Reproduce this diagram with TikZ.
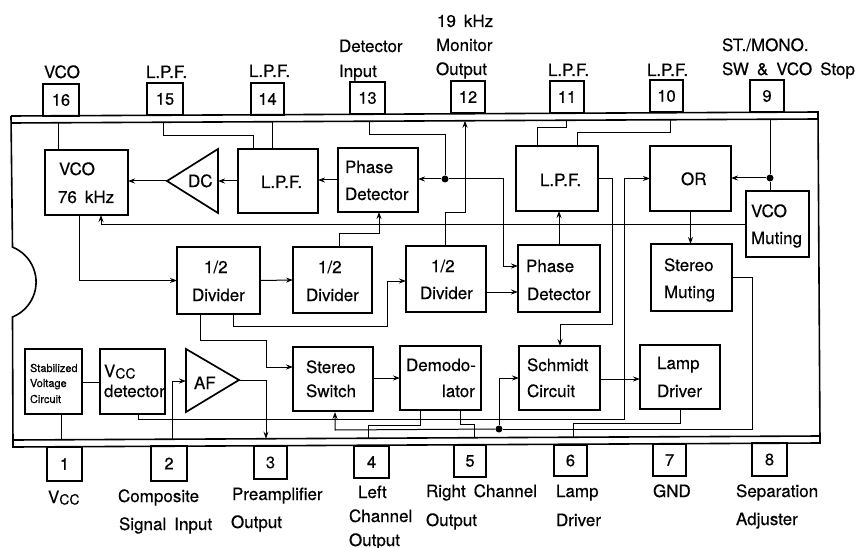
\documentclass[tikz,border=0pt]{standalone}
\usepackage{fontspec}
\setmainfont[FakeBold=0.4,WordSpace=1.7]{TeX Gyre Heros}
\usetikzlibrary{arrows.meta,calc}
\tikzset{
 x=1pt,y=-1pt,
 box/.style={draw,line width=1.7pt,anchor=north west,inner sep=0pt,outer sep=0pt},
 pin/.style={draw,line width=1.4pt,inner sep=0pt,outer sep=0pt,font=\fontsize{16.5}{16}\selectfont,anchor=north west},
 lbl/.style={inner sep=0pt,outer sep=0pt,font=\fontsize{17}{17}\selectfont,anchor=base west},
 tiny/.style={inner sep=0pt,outer sep=0pt,font=\fontsize{11}{11}\selectfont,anchor=base west},
 wire/.style={line width=1pt},
 arr/.style={wire,-{Stealth[length=7pt,width=5pt]}},
 dotn/.style={circle,fill=black,inner sep=0pt,minimum size=7pt},
 band/.style={line width=1.6pt},
}
\newcommand{\bx}[5]{\node[box,minimum width=#4pt-#2pt,minimum height=#5pt-#3pt] (#1) at (#2,#3) {};}
\newcommand{\pn}[6]{\node[pin,minimum width=#4pt-#2pt,minimum height=#5pt-#3pt] (#1) at (#2,#3) {#6};}
\newcommand{\tx}[4]{\node[lbl] (#1) at (#2,#3) {#4};}
\begin{document}
\begin{tikzpicture}
\useasboundingbox (0,0) rectangle (856,548);
% package
\draw[band] (11,116) -- (818,112) -- (820,443) -- (13,447) -- (12.5,317)
  arc[start angle=68,end angle=-68,radius=37.7] -- (11,116);
\draw[band] (11,123) -- (818,119);
\draw[band] (13,440) -- (820,436);
% boxes
\bx{vco}{45}{150}{128}{215}
\bx{lpfa}{238}{149}{318}{213}
\bx{pda}{338}{148}{418}{212}
\bx{diva}{177}{247}{260}{314}
\bx{divb}{293}{247}{372}{313}
\bx{divc}{406}{246}{486}{312}
\bx{pdb}{518}{245}{600}{312}
\bx{lpfb}{516}{146}{598}{211}
\bx{orb}{650}{146}{731}{211}
\bx{vmut}{746}{191}{809}{257}
\bx{smut}{651}{244}{732}{311}
\bx{stab}{25}{349}{82}{414}
\bx{vdet}{100}{349}{165}{414}
\bx{ssw}{293}{347}{373}{411}
\bx{dem}{400}{346}{481}{410}
\bx{sch}{519}{346}{600}{410}
\bx{lamp}{640}{345}{720}{409}
\coordinate (dct) at (167,181); \coordinate (dcr) at (218,181);
\draw[line width=1.7pt,line join=miter] (dct) -- (218,149) -- (218,213) -- cycle;
\coordinate (aft) at (239,380); \coordinate (afl) at (186,381);
\draw[line width=1.7pt,line join=miter] (186,349) -- (186,412) -- (aft) -- cycle;
% pins
\pn{p16}{43}{84}{79}{116}{16}
\pn{p15}{147}{83}{183}{115}{15}
\pn{p14}{251}{83}{284}{115}{14}
\pn{p13}{350}{82}{385}{114}{13}
\pn{p12}{451}{81}{485}{113}{12}
\pn{p11}{550}{81}{584}{113}{11}
\pn{p10}{650}{80}{683}{112}{10}
\pn{p9}{750}{80}{784}{112}{9}
\pn{p1}{47}{447}{82}{481}{1}
\pn{p2}{151}{446}{187}{481}{2}
\pn{p3}{254}{446}{287}{479}{3}
\pn{p4}{354}{446}{389}{478}{4}
\pn{p5}{454}{445}{486}{477}{5}
\pn{p6}{554}{445}{587}{476}{6}
\pn{p7}{653}{444}{686}{476}{7}
\pn{p8}{752}{443}{787}{476}{8}
% terminals on the inner band lines
\coordinate (t16) at (58,122.7);
\coordinate (t15) at (163,122.2);
\coordinate (t14) at (272,121.7);
\coordinate (t13) at (369,121.2);
\coordinate (t12) at (465,120.7);
\coordinate (t11) at (566,120.3);
\coordinate (t10) at (670,119.7);
\coordinate (t9) at (770,119.2);
\coordinate (b1) at (61,439.8);
\coordinate (b2) at (172,439.2);
\coordinate (b3) at (266,438.7);
\coordinate (b4) at (368,438.2);
\coordinate (b5) at (474,437.7);
\coordinate (b6) at (573,437.2);
% junctions
\node[dotn] (dotA) at (445,179) {};
\node[dotn] (dotB) at (770,178) {};
\node[dotn] (dotC) at (499,429) {};
% top wires
\draw[wire] (t16) -- (t16 |- vco.north);
\draw[wire] (t15) -- ++(0,13) -| ($(lpfa.north west)+(15,0)$);
\draw[wire] (t14) -- (t14 |- lpfa.north);
\draw[wire] (t13) -- ++(0,13) -| (dotA);
\draw[arr] (dotA) -- (dotA -| pda.east);
\draw[arr] (dotA) -| (503,266) -- (pdb.west |- 0,266);
\draw[arr] ($(divc.north west)+(39,0)$) |- (t12 |- 0,212) -- (t12);
\draw[wire] (t11) -- ++(0,7) -| ($(lpfb.north west)+(21,0)$);
\draw[wire] (t10) -- ++(0,13) -| ($(lpfb.north west)+(61,0)$);
\draw[wire] (t9) -- (dotB) -- (dotB |- vmut.north);
\draw[arr] (dotB) -- (dotB -| orb.east);
\draw[arr] (vmut.west) -- (vmut.west -| 101,0) -- (101,0 |- vco.south);
% forward paths
\draw[arr] (lpfa.west |- dcr) -- (dcr);
\draw[arr] (dct) -- (dct -| vco.east);
\draw[arr] (lpfa.east |- pda.west) ++(20,0) -- (lpfa.east |- pda.west);
\draw[arr] ($(divb.north west)+(46,0)$) -- ++(0,-14) -| ($(pda.south west)+(41,0)$);
\draw[arr] ($(vco.south west)+(34,0)$) |- (diva.west);
\draw[arr] (diva.east) -- (divb.west);
\draw[arr] ($(diva.south west)+(56,0)$) -- ++(0,12) -| (387,281) -- (divc.west |- 0,281);
\draw[arr] ($(diva.south west)+(23,0)$) -- ++(0,26) -| (266,367) -- (ssw.west |- 0,367);
\draw[arr] (divc.east |- 0,292) -- (pdb.west |- 0,292);
\draw[arr] (pdb.north -| 559,0) -- (559,0 |- lpfb.south);
\draw[arr] (lpfb.east) -| (612,324) -| ($(sch.north west)+(41,0)$);
\draw[arr] ($(vdet.south west)+(38,0)$) |- (624,419) |- (orb.west);
\draw[arr] (orb.south) -- (orb.south |- smut.north);
\draw[wire] (smut.east) -| (752,429) -- (dotC);
\draw[arr] (dotC) -- (335,430) -- (335,412);
\draw[arr] (dotC) |- (sch.west);
% lower row
\draw[wire] (stab.south -| b1) -- (b1);
\draw[wire] (stab.east |- 0,382) -- (vdet.west |- 0,382);
\draw[arr] (b2) |- (afl);
\draw[arr] (aft) -| (b3);
\draw[arr] (ssw.east |- 0,378) -- (dem.west |- 0,378);
\draw[arr] (lamp.west |- 0,379) ++(-40,0) -- (lamp.west |- 0,379);
\draw[wire] ($(dem.south west)+(20,0)$) -- ++(0,15) -| (b4);
\draw[wire] ($(dem.south west)+(60,0)$) -- ++(0,14) -| (b5);
\draw[wire] ($(lamp.south west)+(40,0)$) -- ++(0,14) -| (b6);
% block texts
\tx{a1}{59}{175}{VCO} \tx{a2}{58}{203}{76 kHz}
\tx{a3}{188}{187}{DC}
\tx{a4}{261}{188}{L.P.F.}
\tx{a5}{345}{173}{Phase} \tx{a6}{345}{200}{Detector}
\tx{a7}{204}{273}{1/2} \tx{a8}{192}{301}{Divider}
\tx{a9}{318}{273}{1/2} \tx{a10}{306}{301}{Divider}
\tx{a11}{431}{272}{1/2} \tx{a12}{420}{299}{Divider}
\tx{a13}{540}{186}{L.P.F.}
\tx{a14}{526}{272}{Phase} \tx{a15}{527}{300}{Detector}
\tx{a16}{681}{185}{OR}
\tx{a17}{751}{217}{VCO} \tx{a18}{751}{244}{Muting}
\tx{a19}{664}{271}{Stereo} \tx{a20}{664}{298}{Muting}
\node[tiny] (a21) at (30,372) {Stabilized};
\node[tiny] (a22) at (30,387) {Voltage};
\node[tiny] (a23) at (30,403) {Circuit};
\tx{a24}{104}{377}{V{\fontsize{14}{14}\selectfont\raisebox{-1.5pt}{CC}}}
\tx{a25}{104}{397}{detector}
\tx{a26}{194}{389}{AF}
\tx{a27}{306}{373}{Stereo} \tx{a28}{306}{397}{Switch}
\tx{a29}{406}{371}{Demodo-} \tx{a30}{442}{397}{lator}
\tx{a31}{527}{371}{Schmidt} \tx{a32}{527}{397}{Circuit}
\tx{a33}{657}{369}{Lamp} \tx{a34}{657}{397}{Driver}
% pin texts, top
\tx{c1}{44}{78}{VCO}
\tx{c2}{146}{78}{L.P.F.}
\tx{c3}{249}{77}{L.P.F.}
\tx{c4}{339}{52}{Detector} \tx{c5}{339}{77}{Input}
\tx{c6}{437}{27}{19 kHz} \tx{c7}{436}{51}{Monitor} \tx{c8}{436}{75}{Output}
\tx{c9}{548}{76}{L.P.F.}
\tx{c10}{647}{76}{L.P.F.}
\tx{c11}{722}{51}{ST./MONO.} \tx{c12}{722}{75}{SW \& VCO Stop}
% pin texts, bottom
\tx{d1}{48}{503}{V{\fontsize{14}{14}\selectfont\raisebox{-1.5pt}{CC}}}
\tx{d2}{118}{502}{Composite} \tx{d3}{119}{530}{Signal Input}
\tx{d4}{232}{500}{Preamplifier} \tx{d5}{231}{528}{Output}
\tx{d6}{358}{498}{Left} \tx{d7}{349}{522}{Channel} \tx{d8}{349}{546}{Output}
\tx{d9}{426}{497}{Right Channel} \tx{d10}{426}{526}{Output}
\tx{d11}{556}{497}{Lamp} \tx{d12}{556}{526}{Driver}
\tx{d13}{653}{497}{GND}
\tx{d14}{736}{497}{Separation} \tx{d15}{736}{525}{Adjuster}
\end{tikzpicture}
\end{document}
